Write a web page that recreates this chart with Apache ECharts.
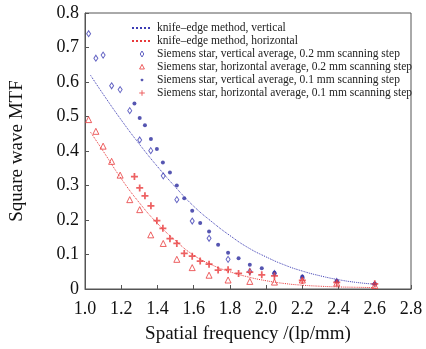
<!DOCTYPE html>
<html>
<head>
<meta charset="utf-8">
<script src="https://cdn.jsdelivr.net/npm/echarts@6/dist/echarts.min.js"></script>
<style>
  html, body { margin: 0; padding: 0; background: #fff; }
  #chart { width: 426px; height: 349px; }
</style>
</head>
<body>
<div id="chart"></div>
<script>
// knife-edge fits
const knifeX = [1.03, 1.1, 1.2, 1.3, 1.4, 1.5, 1.6, 1.7, 1.8, 1.9, 2.0, 2.1, 2.2, 2.3, 2.4, 2.5, 2.6]
const knifeV = [0.62, 0.565, 0.49, 0.42, 0.355, 0.295, 0.24, 0.195, 0.155, 0.12, 0.093, 0.07, 0.052, 0.038, 0.027, 0.019, 0.014]
const knifeH = [0.455, 0.40, 0.32, 0.25, 0.19, 0.14, 0.098, 0.07, 0.05, 0.035, 0.024, 0.016, 0.011, 0.008, 0.006, 0.005, 0.004]

// Siemens star, 0.2 mm step
const step2X = [1.02, 1.06, 1.10, 1.147, 1.194, 1.247, 1.302, 1.363, 1.432, 1.507, 1.592, 1.685, 1.79, 1.91, 2.046, 2.2, 2.39, 2.6]
const step2V = [0.74, 0.669, 0.678, 0.589, 0.578, 0.517, 0.432, 0.401, 0.328, 0.259, 0.197, 0.147, 0.086, 0.051, 0.045, 0.032, 0.022, 0.012]
const step2H = [0.491, 0.457, 0.414, 0.370, 0.330, 0.259, 0.230, 0.157, 0.132, 0.086, 0.062, 0.040, 0.026, 0.022, 0.020, 0.026, 0.017, 0.010]

// Siemens star, 0.1 mm step
const step1X = [1.273, 1.302, 1.331, 1.364, 1.397, 1.43, 1.469, 1.507, 1.548, 1.592, 1.636, 1.685, 1.735, 1.79, 1.848, 1.91, 1.976, 2.046, 2.2, 2.39, 2.6]
const step1V = [0.538, 0.496, 0.475, 0.435, 0.406, 0.367, 0.338, 0.300, 0.263, 0.227, 0.191, 0.167, 0.128, 0.105, 0.089, 0.070, 0.060, 0.047, 0.036, 0.023, 0.016]
const step1H = [0.326, 0.293, 0.270, 0.241, 0.198, 0.176, 0.146, 0.132, 0.103, 0.095, 0.081, 0.072, 0.055, 0.056, 0.045, 0.049, 0.041, 0.038, 0.025, 0.019, 0.015]

const names = [
  'knife\u2013edge method, vertical',
  'knife\u2013edge method, horizontal',
  'Siemens star, vertical average, 0.2 mm scanning step',
  'Siemens star, horizontal average, 0.2 mm scanning step',
  'Siemens star, vertical average, 0.1 mm scanning step',
  'Siemens star, horizontal average, 0.1 mm scanning step'
]

const blue = '#3c3cb4'
const navy = '#2a2a9e'
const red = '#e8393b'
const serif = 'Liberation Serif'
const plus = 'path://M3,0H5V3H8V5H5V8H3V5H0V3H3Z'

// legend icons: small marks centred in a 20x8 box (the two moveTo's fix the box)
const box = 'path://M0,0M20,8'
const iconDiamond = box + 'M10,1L11.8,4L10,7L8.2,4Z'
const iconTriangle = box + 'M10,1.4L12.4,6L7.6,6Z'
const iconDot = box + 'M9.4,2.7H10.6L11.3,3.4V4.6L10.6,5.3H9.4L8.7,4.6V3.4Z'
const iconPlus = box + 'M9.5,1.2H10.5V3.5H12.8V4.5H10.5V6.8H9.5V4.5H7.2V3.5H9.5Z'

const zip = (xs, ys) => xs.map((x, i) => [x, ys[i]])

const chart = echarts.init(document.getElementById('chart'))
let option = {
  animation: false,
  backgroundColor: '#fff',
  grid: {
    left: 83,
    right: 15,
    top: 13,
    bottom: 58,
    show: true,
    borderColor: '#555',
    borderWidth: 1
  },
  legend: {
    orient: 'vertical',
    left: 126,
    top: 17,
    itemGap: 1,
    itemWidth: 20,
    itemHeight: 8,
    textStyle: { fontFamily: serif, fontSize: 11.5, color: '#222' },
    data: [
      { name: names[0], itemStyle: { opacity: 0 } },
      { name: names[1], itemStyle: { opacity: 0 } },
      { name: names[2], icon: iconDiamond, itemStyle: { color: '#fff', borderColor: blue, borderWidth: 1 } },
      { name: names[3], icon: iconTriangle, itemStyle: { color: '#fff', borderColor: red, borderWidth: 1 } },
      { name: names[4], icon: iconDot, itemStyle: { color: navy, borderWidth: 0 } },
      { name: names[5], icon: iconPlus, itemStyle: { color: red, borderWidth: 0 } }
    ]
  },
  xAxis: {
    type: 'value',
    min: 1.0,
    max: 2.8,
    interval: 0.2,
    name: 'Spatial frequency /(lp/mm)',
    nameLocation: 'middle',
    nameGap: 36,
    nameTextStyle: { fontFamily: serif, fontSize: 19, color: '#111' },
    axisLine: { lineStyle: { color: '#555' } },
    axisTick: { inside: true, length: 4, lineStyle: { color: '#555' } },
    axisLabel: {
      fontFamily: serif, fontSize: 18, color: '#111', margin: 11,
      formatter: v => v.toFixed(1)
    },
    splitLine: { show: false }
  },
  yAxis: {
    type: 'value',
    min: 0,
    max: 0.8,
    interval: 0.1,
    name: 'Square wave MTF',
    nameLocation: 'middle',
    nameGap: 58,
    nameTextStyle: { fontFamily: serif, fontSize: 19, color: '#111' },
    axisLine: { show: true, lineStyle: { color: '#555' } },
    axisTick: { show: true, inside: true, length: 4, lineStyle: { color: '#555' } },
    axisLabel: {
      fontFamily: serif, fontSize: 18, color: '#111', margin: 6,
      formatter: v => v === 0 ? '0' : v.toFixed(1)
    },
    splitLine: { show: false }
  },
  series: [
    {
      name: names[0],
      type: 'line',
      smooth: true,
      showSymbol: false,
      symbol: 'none',
      lineStyle: { color: blue, width: 1, type: 'dotted' },
      itemStyle: { color: blue },
      data: zip(knifeX, knifeV)
    },
    {
      name: names[1],
      type: 'line',
      smooth: true,
      showSymbol: false,
      symbol: 'none',
      lineStyle: { color: red, width: 1, type: 'dotted' },
      itemStyle: { color: red },
      data: zip(knifeX, knifeH)
    },
    {
      name: names[2],
      type: 'scatter',
      symbol: 'diamond',
      symbolSize: [4, 6],
      itemStyle: { color: '#fff', borderColor: blue, borderWidth: 1 },
      data: zip(step2X, step2V)
    },
    {
      name: names[3],
      type: 'scatter',
      symbol: 'triangle',
      symbolSize: 6,
      itemStyle: { color: '#fff', borderColor: red, borderWidth: 1 },
      data: zip(step2X, step2H)
    },
    {
      name: names[4],
      type: 'scatter',
      symbol: 'circle',
      symbolSize: 4,
      itemStyle: { color: navy },
      data: zip(step1X, step1V)
    },
    {
      name: names[5],
      type: 'scatter',
      symbol: plus,
      symbolSize: 7,
      itemStyle: { color: red },
      data: zip(step1X, step1H)
    }
  ]
}
chart.setOption(option)
</script>
</body>
</html>
